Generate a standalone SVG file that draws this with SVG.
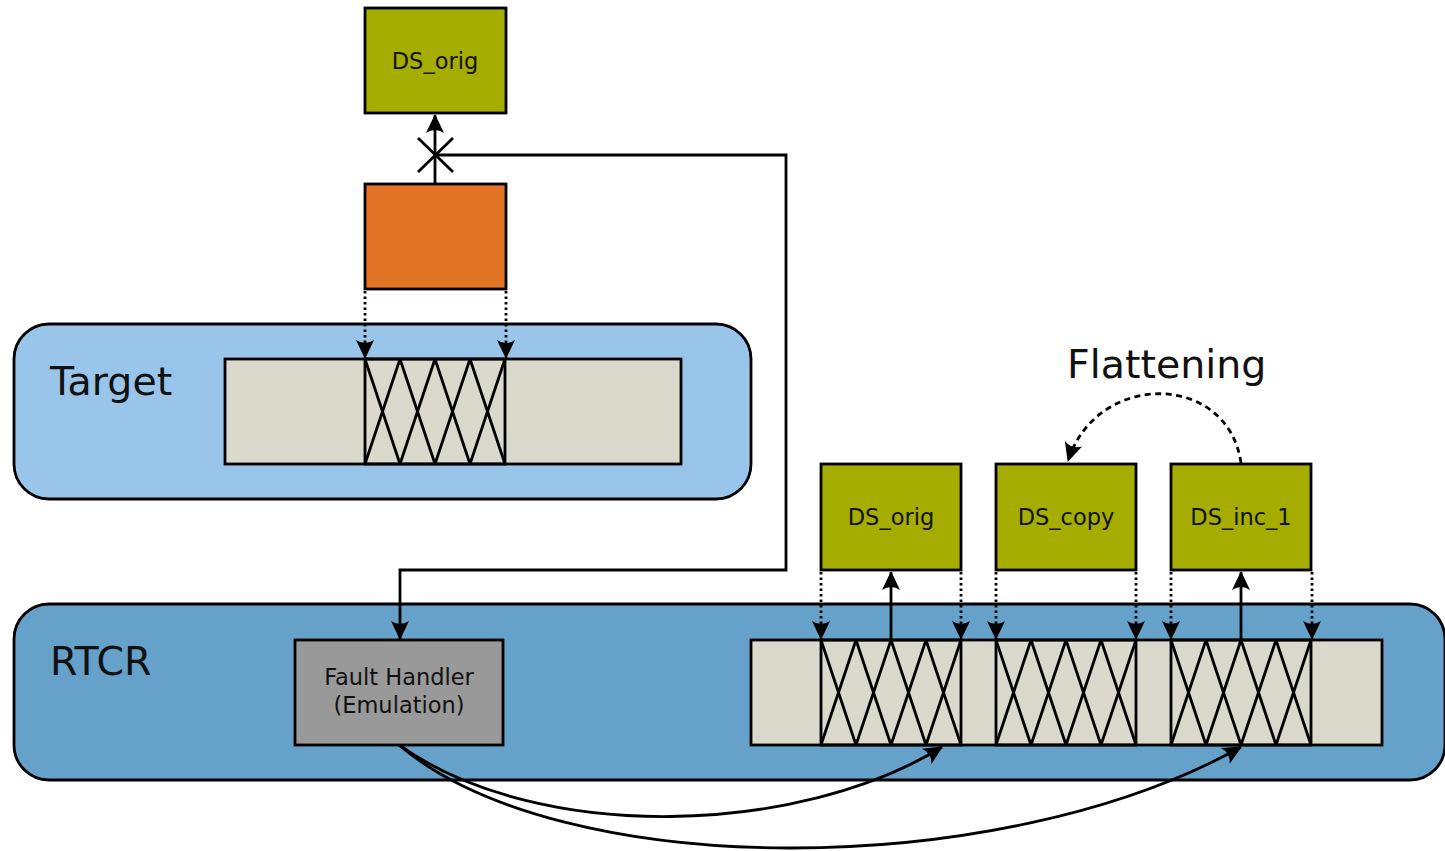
<svg xmlns="http://www.w3.org/2000/svg" width="1445" height="851" viewBox="0 0 1445 851">
<style>
.box{stroke:#000;stroke-width:2.8}
.green{fill:#a5ad00}
.lbl{font-family:"DejaVu Sans","Liberation Sans",sans-serif;fill:#111}
.big{font-size:39.5px}
.small{font-size:22.5px;text-anchor:middle}
.bar{fill:#dad9cb;stroke:#000;stroke-width:2.8}
.conn{fill:none;stroke:#000;stroke-width:2.8}
.dot{fill:none;stroke:#000;stroke-width:2.8;stroke-dasharray:2.5,3}
.dash{fill:none;stroke:#000;stroke-width:2.8;stroke-dasharray:6,4.5}
</style>
<defs>
<marker id="ah" viewBox="-20 -10 22 20" refX="0" refY="0" markerWidth="22" markerHeight="20" markerUnits="userSpaceOnUse" orient="auto">
<path d="M1,0 L-18,-9 Q-12,0 -18,9 Z" fill="#000"/>
</marker>
<g id="hx">
<rect x="0" y="0" width="140" height="105" fill="none" stroke="#000" stroke-width="2.8"/>
<path d="M0,0 L35,105 M35,0 L0,105 M35,0 L70,105 M70,0 L35,105 M70,0 L105,105 M105,0 L70,105 M105,0 L140,105 M140,0 L105,105" fill="none" stroke="#000" stroke-width="2.8"/>
</g>
</defs>

<g id="target">
<rect x="14" y="324" width="737" height="175" rx="35" fill="#99c5ea" stroke="#000" stroke-width="2.8"/>
<text class="lbl big" x="50" y="395">Target</text>
<rect class="bar" x="225" y="359" width="456" height="105"/>
<use href="#hx" x="365" y="359"/>
</g>

<g id="rtcr">
<rect x="14" y="604" width="1431" height="176" rx="35" fill="#65a1c9" stroke="#000" stroke-width="2.8"/>
<text class="lbl big" x="50" y="675">RTCR</text>
<rect class="bar" x="751" y="640" width="631" height="105"/>
<use href="#hx" x="821" y="640"/>
<use href="#hx" x="996" y="640"/>
<use href="#hx" x="1171" y="640"/>
</g>

<g id="ds-orig-top">
<rect class="box green" x="365" y="8" width="141" height="105"/>
<text class="lbl small" x="435" y="69">DS_orig</text>
</g>

<g id="orange">
<rect class="box" x="365" y="184" width="141" height="105" fill="#e37325"/>
</g>

<g id="fault-handler">
<rect class="box" x="295" y="640" width="208" height="105" fill="#999999"/>
<text class="lbl small" x="399" y="685" fill="#222">Fault Handler</text>
<text class="lbl small" x="399" y="713" fill="#222">(Emulation)</text>
</g>

<g id="ds-orig">
<rect class="box green" x="821" y="464" width="140" height="106"/>
<text class="lbl small" x="891" y="525">DS_orig</text>
</g>
<g id="ds-copy">
<rect class="box green" x="996" y="464" width="140" height="106"/>
<text class="lbl small" x="1066" y="525">DS_copy</text>
</g>
<g id="ds-inc-1">
<rect class="box green" x="1171" y="464" width="140" height="106"/>
<text class="lbl small" x="1241" y="525">DS_inc_1</text>
</g>

<text class="lbl big" x="1067" y="378">Flattening</text>

<g id="connectors">
<path class="conn" d="M435,184 V115" marker-end="url(#ah)"/>
<path class="conn" d="M418,138 L453,172 M418,172 L453,138" stroke-width="3"/>
<path class="conn" d="M435,155 H786 V570 H400 V639" marker-end="url(#ah)"/>
<path class="dot" d="M365,291 V358" marker-end="url(#ah)"/>
<path class="dot" d="M506,291 V358" marker-end="url(#ah)"/>

<path class="dot" d="M821,572 V639" marker-end="url(#ah)"/>
<path class="dot" d="M961,572 V639" marker-end="url(#ah)"/>
<path class="dot" d="M996,572 V639" marker-end="url(#ah)"/>
<path class="dot" d="M1136,572 V639" marker-end="url(#ah)"/>
<path class="dot" d="M1171,572 V639" marker-end="url(#ah)"/>
<path class="dot" d="M1312,572 V639" marker-end="url(#ah)"/>
<path class="conn" d="M891,640 V572" marker-end="url(#ah)"/>
<path class="conn" d="M1241,640 V572" marker-end="url(#ah)"/>

<path class="dash" d="M1241,463 C1228,372 1097,370 1068,461" marker-end="url(#ah)"/>

<path class="conn" d="M399,745 C540,845 800,835 942,747" marker-end="url(#ah)"/>
<path class="conn" d="M399,745 C560,882 1000,882 1241,747" marker-end="url(#ah)"/>
</g>
</svg>
